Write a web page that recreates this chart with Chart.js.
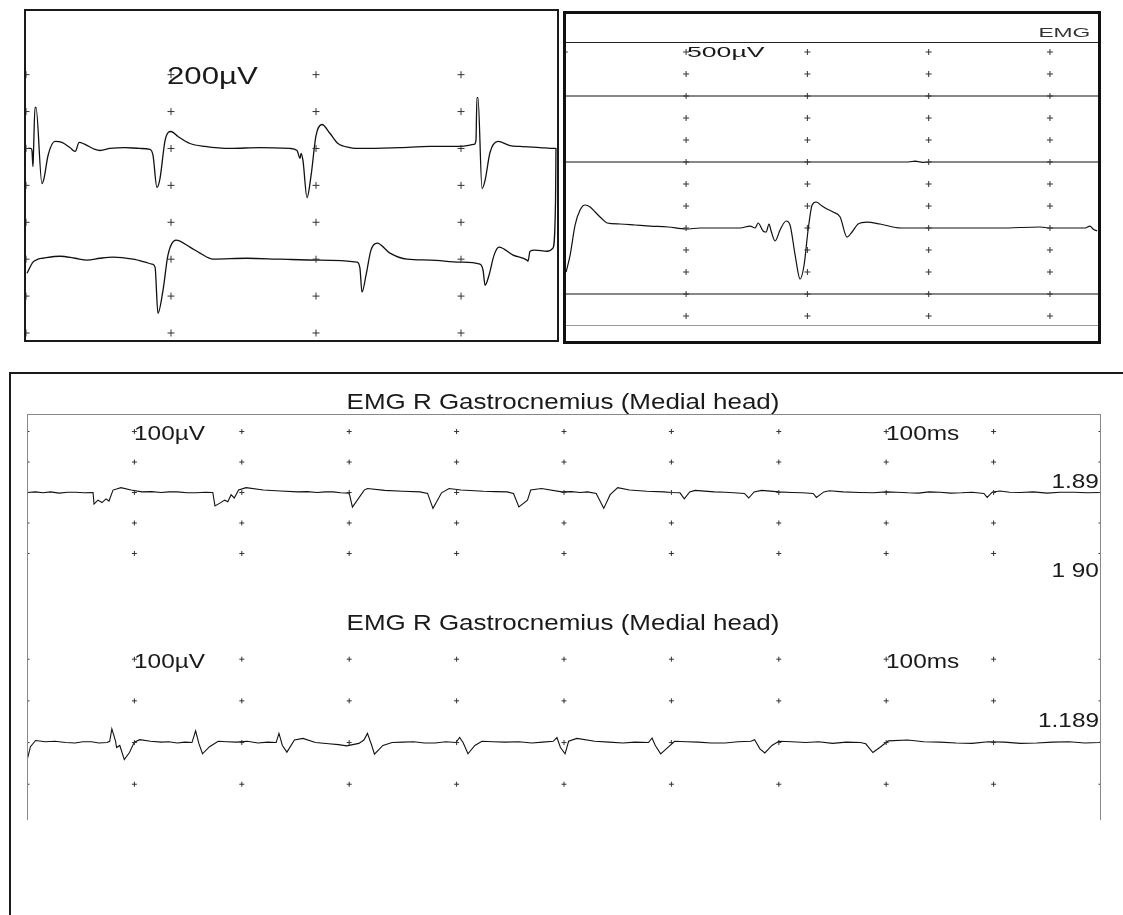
<!DOCTYPE html>
<html>
<head>
<meta charset="utf-8">
<script src="https://cdn.jsdelivr.net/npm/chart.js"></script>
<style>
  body { margin: 0; width: 1123px; height: 915px; position: relative; overflow: hidden; background: #fff;
         font-family: "Liberation Sans", Arial, sans-serif; }
  canvas { position: absolute; }
  .frame { position: absolute; box-sizing: border-box; pointer-events: none; }
  .lbl { position: absolute; white-space: nowrap; line-height: 1; color: #1a1a1a; }
  .left { transform-origin: left center; }
  .right { transform-origin: right center; }
  .center { transform-origin: center center; }
</style>
</head>
<body>

<canvas id="chartA" width="531" height="329" style="left:26px;top:11px"></canvas>
<canvas id="chartB" width="532" height="327" style="left:566px;top:14px"></canvas>
<canvas id="chartC1" width="1074" height="184" style="left:27px;top:416px"></canvas>
<canvas id="chartC2" width="1074" height="190" style="left:27px;top:630px"></canvas>

<!-- frames -->
<div class="frame" style="left:24px;top:9px;width:535px;height:333px;border:2px solid #1a1a1a"></div>
<div class="frame" style="left:563px;top:11px;width:538px;height:333px;border:3px solid #111"></div>
<div class="frame" style="left:566px;top:42px;width:532px;height:1px;background:#222"></div>
<div class="frame" style="left:566px;top:325px;width:532px;height:1px;background:#999"></div>
<div class="frame" style="left:9px;top:372px;width:1120px;height:550px;border-left:2px solid #1a1a1a;border-top:2px solid #1a1a1a"></div>
<div class="frame" style="left:27px;top:414px;width:1074px;height:406px;border:1px solid #888;border-bottom:none"></div>

<!-- labels -->
<div class="lbl left" style="left:167px;top:64px;font-size:24px;transform:scaleX(1.3)">200µV</div>
<div class="lbl left" style="left:687px;top:45px;font-size:14px;transform:scaleX(1.9)">500µV</div>
<div class="lbl right" style="right:33px;top:27px;font-size:12px;color:#333;transform:scaleX(1.9)">EMG</div>

<div class="lbl center" style="left:563px;top:391px;font-size:22px;transform:translateX(-50%) scaleX(1.18)">EMG R Gastrocnemius (Medial head)</div>
<div class="lbl left" style="left:134px;top:423px;font-size:20px;transform:scaleX(1.22)">100µV</div>
<div class="lbl left" style="left:886px;top:423px;font-size:20px;transform:scaleX(1.22)">100ms</div>
<div class="lbl right" style="right:24px;top:471px;font-size:20px;transform:scaleX(1.22)">1.89</div>
<div class="lbl right" style="right:24px;top:560px;font-size:20px;transform:scaleX(1.22)">1 90</div>

<div class="lbl center" style="left:563px;top:612px;font-size:22px;transform:translateX(-50%) scaleX(1.18)">EMG R Gastrocnemius (Medial head)</div>
<div class="lbl left" style="left:134px;top:651px;font-size:20px;transform:scaleX(1.22)">100µV</div>
<div class="lbl left" style="left:886px;top:651px;font-size:20px;transform:scaleX(1.22)">100ms</div>
<div class="lbl right" style="right:24px;top:710px;font-size:20px;transform:scaleX(1.22)">1.189</div>

<script>
// ---- Panel A : two channels, 200 µV/div, time in ms (10 ms/div) ----
const aGridX = [0, 10, 20, 30];
const aGridY = [0, 200, 400, 600, 800, 1000, 1200, 1400];
const aOffsets = [1000, 400];

// [time, µV]
const aTrace1 = [
  [0.14, 0], [0.34, 0], [0.41, -11], [0.48, -98], [0.52, -11], [0.62, 222], [0.69, 222],
  [1.10, -190], [1.24, -163], [1.52, -38], [2.0, 38], [2.48, 33], [3.03, 5], [3.38, -16],
  [3.45, -11], [3.66, 33], [4.07, 22], [4.76, -5], [5.1, -11], [5.79, 0], [6.83, 5], [7.86, 0],
  [8.55, -5], [8.76, -38], [9.03, -211], [9.24, -163], [9.59, 43], [10.0, 92], [10.48, 65],
  [11.31, 27], [12.34, 11], [14.07, 0], [16.14, 5], [18.2, 0], [18.69, -11], [18.9, -54],
  [18.97, -27], [19.1, -65], [19.38, -266], [19.66, -146], [20.0, 70], [20.41, 130],
  [20.97, 81], [21.52, 27], [22.34, 5], [23.24, 0], [25.8, 5], [27.86, 11], [29.93, 11],
  [30.9, 22], [31.03, 43], [31.1, 276], [31.17, 276], [31.45, -217], [31.66, -173],
  [32.0, -22], [32.55, 38], [33.38, 16], [34.07, 11], [35.45, 5], [36.48, 0], [36.55, 0]
];

// lower trace, ends with the pen jump at the right edge
const aTrace2 = [
  [0.07, -76], [0.48, -16], [0.83, 0], [1.17, 5], [2.34, 16], [3.38, 5], [4.21, -5], [5.1, 5],
  [6.0, 11], [7.38, 0], [8.21, -16], [8.69, -27], [8.9, -43], [9.1, -293], [9.45, -168],
  [9.79, 22], [10.34, 103], [11.31, 65], [12.0, 33], [12.9, 0], [15.24, 5], [17.52, 0],
  [20.28, -5], [22.83, -16], [23.03, -49], [23.17, -179], [23.45, -87], [23.79, 49],
  [24.21, 87], [25.1, 33], [26.28, 0], [27.86, -5], [29.93, -16], [31.31, -27], [31.52, -60],
  [31.66, -141], [31.93, -87], [32.28, 22], [32.62, 65], [33.59, 22], [34.55, -5], [34.62, -11],
  [34.76, 43], [35.1, 49], [35.93, 43], [36.34, 60], [36.52, 320], [36.55, 602]
];

// ---- Panel B : 500 µV/div, one active channel ----
const bGridX = [0, 10, 20, 30, 40];
const bGridY = [500, 1000, 1500, 2000, 2500, 3000, 3500, 4000, 4500, 5000, 5500, 6000, 6500];
const bOffset = 2500;
const bFlatLevels = [5500, 4000, 1000];

const bTrace = [
  [0.11, -1000], [0.44, -614], [0.85, 68], [1.26, 409], [1.67, 523], [2.09, 477], [2.5, 364],
  [3.0, 227], [3.49, 114], [4.56, 91], [5.8, 68], [7.03, 45], [8.52, 23], [10.0, -23],
  [11.15, 0], [12.8, 0], [14.45, 0], [15.28, 45], [15.69, 0], [15.94, 114], [16.35, -68],
  [16.6, -91], [16.84, 91], [17.01, -68], [17.34, -295], [17.75, -45], [18.25, 159],
  [18.57, 68], [18.99, -614], [19.4, -1159], [19.73, -841], [20.06, -45], [20.39, 523],
  [20.72, 591], [21.21, 500], [21.62, 432], [22.12, 364], [22.7, 250], [23.27, -205],
  [23.68, -91], [24.18, 91], [24.92, 136], [25.99, 91], [27.72, 0], [31.76, 0], [35.89, 0],
  [39.19, 23], [40.01, 0], [42.9, 0], [43.3, 45], [43.55, -23], [43.88, -68]
];
// small blip on the middle flat channel
const bFlatTrace = [[0.1, 0], [28.3, 0], [28.9, 20], [29.5, -10], [30.1, 0], [44, 0]];

// ---- Panel C : EMG R Gastrocnemius, 100 µV/div, 100 ms/div ----
const cGridX = [0, 100, 200, 300, 400, 500, 600, 700, 800, 900, 1000];
const c1GridY = [200, 100, 0, -100, -200];
const c2GridY = [200, 100, 0, -100];

const c1Trace = [
  [0, 0], [8, 2], [15, -1], [22, 2], [30, -2], [38, 1], [45, 1], [53, -1], [61.5, 0], [62.4, -38],
  [66.1, -25], [69.8, -33], [73.6, -21], [76.3, -28], [80.1, 8], [87.5, 16], [96.8, 8], [107, 2],
  [116, 3], [125, 0], [132, 2], [140, 2], [149, -1], [158, -1], [166, 1], [173, 0], [175, -44],
  [180, -34], [184, -25], [187, -30], [190, -7], [193, -18], [197, 8], [204, 16], [220, 8],
  [236, 5], [252, 2], [261, 3], [270, 0], [278, 2], [285, 2], [292, -1], [300, -2], [303, -48],
  [314, 8], [317, 13], [333, 7], [350, 4], [366, 2], [373, -3], [378, -52], [386, -1], [393, 13],
  [404, 8], [425, 4], [436, 3], [447, 2], [453, -3], [458, -47], [466, -25], [469, 8], [479, 13],
  [498, 2], [507, 3], [515, 0], [522, 2], [530, -3], [537, -52], [543, -7], [550, 16], [561, 8],
  [577, 4], [593, 2], [600, 0], [608, -1], [612, -21], [617, 2], [622, 7], [640, 2], [650, 1],
  [658, -1], [668, -3], [672, -18], [677, 2], [684, 7], [700, 2], [712, 0], [722, -1], [732, -3],
  [735, -16], [742, 2], [747, 6], [760, 2], [775, 0], [788, -1], [800, 2], [810, 1], [820, -1],
  [830, -2], [840, 2], [850, 1], [860, -2], [870, -1], [880, 1], [891, -3], [894, -16], [899, 2],
  [906, 5], [915, 1], [925, 0], [937, 2], [950, -2], [962, 1], [975, 1], [987, -1], [1000, 0]
];

const c2Trace = [
  [0, -43], [3.2, -10], [8, 5], [17, 2], [26, 3], [36, 0], [45, -1], [52, 2], [60, 2], [67, -1],
  [74.5, 0],
  [77, 3], [79, 33], [82.5, 3], [83.4, -12], [86.4, -7], [90.6, -41], [95.4, -24], [100, 1],
  [105, 7], [115, 3], [125, 1], [132, 2], [140, -1], [147, 1],
  [153.6, 0], [157, 28], [160, -2], [163.4, -27], [170, -10], [178, 3], [186, 2], [195, 1],
  [205, 3], [215, -1], [224, 1],
  [232, 0], [234.6, 22], [237.8, -7], [242, -23], [249, 6], [257, 10], [268.5, 0], [281, -3],
  [290, -5], [297.6, -8], [309, -2],
  [313.7, 6], [317, 22], [321, -7], [323.5, -28], [331.4, -7], [340, 0], [350, 1], [360, 2],
  [370, -1], [380, -1], [390, 2],
  [399.4, 0], [402.8, 12], [406, 0], [410.6, -27], [417, -7], [423.6, 3], [434, 2], [445, 1],
  [458, 2], [470, -1], [480, 1],
  [490, 3], [493.4, 12], [496.7, -12], [501, -27], [504.3, 3], [512, 10], [528.6, 3], [542, 1],
  [555, -1], [566, 1], [578.7, 0],
  [582, 11], [585, -7], [590, -27], [596.5, -12], [603, 3], [614, 2], [625, 1], [637, -1],
  [650, -1], [662, 2],
  [674, 3], [677.5, 7], [682.4, -15], [687, -25], [693.6, -7], [700, 3], [712, 2], [725, 0],
  [737, 2], [750, -2], [763, 1],
  [776, 0], [781, -3], [787.6, -24], [794, -12], [802, 4], [820, 6], [835, 2], [850, 1],
  [865, -1], [880, -2], [895, 2], [910, 1], [925, -2], [940, -1], [955, 1], [970, 2], [985, -1],
  [998, 0], [1000, 1]
];

function toPoints(trace, offset) {
  return trace.map(p => ({ x: p[0], y: p[1] + offset }));
}

function crosses(gx, gy) {
  return gx.flatMap(x => gy.map(y => ({ x: x, y: y })));
}

function traceSet(data, width, smooth) {
  const ds = {
    data: data,
    showLine: true,
    borderColor: '#111',
    borderWidth: width,
    pointRadius: 0,
    tension: 0
  };
  if (smooth) ds.cubicInterpolationMode = 'monotone';
  return ds;
}

function crossSet(data, r) {
  return {
    data: data,
    showLine: false,
    pointStyle: 'cross',
    pointRadius: r,
    borderColor: '#333',
    backgroundColor: '#333',
    borderWidth: 1
  };
}

function makeChart(id, datasets, xMin, xMax, yMin, yMax) {
  return new Chart(document.getElementById(id), {
    type: 'scatter',
    data: { datasets: datasets },
    options: {
      responsive: false,
      animation: false,
      events: [],
      layout: { padding: 0, autoPadding: false },
      plugins: { legend: { display: false }, tooltip: { enabled: false } },
      scales: {
        x: { type: 'linear', display: false, min: xMin, max: xMax },
        y: { type: 'linear', display: false, min: yMin, max: yMax }
      }
    }
  });
}

// Panel A
makeChart('chartA', [
  crossSet(crosses(aGridX, aGridY), 3.5),
  traceSet(toPoints(aTrace1, aOffsets[0]), 1.3, true),
  traceSet(toPoints(aTrace2, aOffsets[1]), 1.3, true)
], 0, 36.62, -38, 1745);

// Panel B
const bSets = [crossSet(crosses(bGridX, bGridY), 3)];
bFlatLevels.forEach((lvl, i) => {
  bSets.push(traceSet(toPoints(i === 1 ? bFlatTrace : [[0.1, 0], [44, 0]], lvl), 1.2, false));
});
bSets.push(traceSet(toPoints(bTrace, bOffset), 1.2, true));
makeChart('chartB', bSets, 0.1, 43.96, -68, 7364);

// Panel C, upper and lower sweeps
makeChart('chartC1', [
  crossSet(crosses(cGridX, c1GridY), 2.5),
  traceSet(toPoints(c1Trace, 0), 1.1, false)
], 0, 1000, -352.6, 251);

makeChart('chartC2', [
  crossSet(crosses(cGridX, c2GridY), 2.5),
  traceSet(toPoints(c2Trace, 0), 1.1, false)
], 0, 1000, -185.8, 270);
</script>
</body>
</html>
